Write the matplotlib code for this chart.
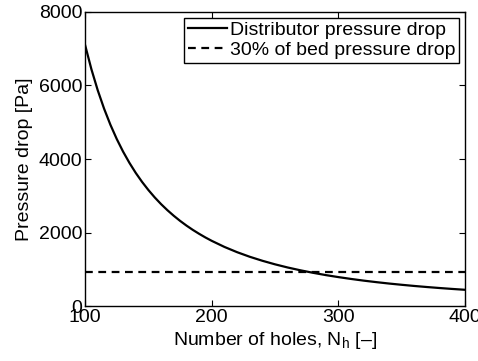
import numpy as np
import matplotlib.pyplot as plt

# Distributor pressure drop vs. number of holes
n_holes = [100, 105, 110, 115, 120, 125, 130, 135, 140, 145, 150, 155, 160, 165,
           170, 175, 180, 185, 190, 195, 200,
           210, 220, 230, 240, 250, 260, 270, 280, 290, 300,
           310, 320, 330, 340, 350, 360, 370, 380, 390, 400]
dp_dist = [7100, 6440, 5868, 5369, 4931, 4544, 4201, 3896, 3622, 3377, 3156, 2955, 2773, 2608,
           2457, 2318, 2191, 2074, 1967, 1867, 1775,
           1610, 1467, 1342, 1233, 1136, 1050, 974, 906, 844, 789,
           739, 693, 652, 614, 580, 548, 519, 492, 467, 444]
dp_bed30 = 925  # 30% of bed pressure drop [Pa]

plt.rcParams['font.family'] = ['Liberation Sans', 'DejaVu Sans']
plt.rcParams['mathtext.fontset'] = 'custom'
plt.rcParams['mathtext.rm'] = 'Liberation Sans'

fs = 14
fig = plt.figure(figsize=(4.78, 3.61), dpi=100)
ax = fig.add_axes([0.178, 0.152, 0.795, 0.815])

ax.plot(n_holes, dp_dist, color='k', linewidth=1.6, label='Distributor pressure drop')
ax.plot([n_holes[0], n_holes[-1]], [dp_bed30, dp_bed30], color='k', linewidth=1.6,
        linestyle=(0, (3.5, 2.5)), label='30% of bed pressure drop')

ax.set_xlim(100, 400)
ax.set_ylim(0, 8000)
ax.set_xticks([100, 200, 300, 400])
ax.set_yticks([0, 2000, 4000, 6000, 8000])
ax.tick_params(direction='in', top=True, right=True, labelsize=fs, length=4, pad=2)
for s in ax.spines.values():
    s.set_linewidth(1.0)

ax.set_xlabel('Number of holes, N$_\\mathrm{h}$ [\u2013]', fontsize=fs, labelpad=3)
ax.set_ylabel('Pressure drop [Pa]', fontsize=fs, labelpad=4)

leg = ax.legend(loc='upper right', fontsize=fs, fancybox=False, framealpha=1,
                edgecolor='k', handlelength=2.0, handletextpad=0.15,
                borderaxespad=0.3, borderpad=0.2, labelspacing=0.1)
leg.get_frame().set_linewidth(1.0)

fig.savefig('out.png', dpi=100)
